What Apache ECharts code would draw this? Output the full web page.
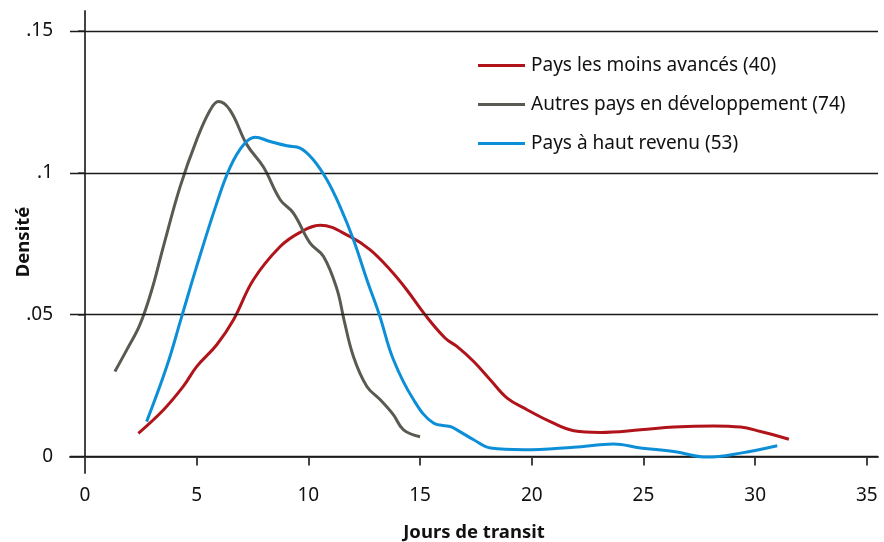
<!DOCTYPE html>
<html><head><meta charset="utf-8">
<script src="https://cdn.jsdelivr.net/npm/echarts@6/dist/echarts.min.js"></script>
<style>html,body{margin:0;padding:0;background:#fff}#c{width:884px;height:542px}</style>
</head><body><div id="c"></div>
<script>
const seriesNames = ["Pays les moins avancés (40)", "Autres pays en développement (74)", "Pays à haut revenu (53)"];
const colors = ["#b0141a", "#5a5a52", "#0d8fd8"];
const xTicks = [0, 5, 10, 15, 20, 25, 30, 35];
const yTicks = [0, 0.05, 0.1, 0.15];
const yTickLabels = ["0", ".05", ".1", ".15"];

const leastDeveloped = [
  [2.39,0.0082],[3.51,0.0164],[4.40,0.0247],[5.0,0.0317],[5.90,0.0394],[6.65,0.0482],[7.54,0.0623],
  [8.74,0.074],[9.63,0.0790],[10.53,0.0815],[11.87,0.0775],[12.77,0.0728],[13.66,0.0658],[14.41,0.0587],
  [15.23,0.0499],[16.13,0.0417],[16.65,0.0388],[17.4,0.0335],[18.15,0.027],[18.9,0.0206],[19.79,0.0165],
  [20.83,0.0123],[21.88,0.0091],[23.07,0.0085],[24.87,0.0094],[26.36,0.0104],[28.15,0.0108],[29.35,0.0104],
  [30.24,0.0088],[31.51,0.0061]
];
const otherDeveloping = [
  [1.34,0.030],[1.87,0.0376],[2.46,0.0465],[2.99,0.0587],[3.51,0.074],[4.26,0.0951],[5.0,0.1116],
  [5.6,0.122],[5.97,0.1251],[6.5,0.122],[7.24,0.110],[7.99,0.102],[8.74,0.0905],[9.33,0.0858],
  [10.08,0.0752],[10.68,0.0705],[11.28,0.059],[11.6,0.048],[12.02,0.0352],[12.62,0.0247],[13.22,0.020],
  [13.81,0.0147],[14.26,0.0094],[15.0,0.0070]
];
const highIncome = [
  [2.76,0.0123],[3.66,0.0317],[4.33,0.0493],[5.0,0.067],[5.9,0.0893],[6.5,0.102],[7.09,0.1098],
  [7.62,0.1125],[8.29,0.111],[9.04,0.1095],[9.63,0.1087],[10.23,0.1045],[10.83,0.0975],[11.42,0.0881],
  [12.02,0.0764],[12.62,0.0623],[13.18,0.0499],[13.81,0.0341],[14.71,0.020],[15.6,0.0118],[16.35,0.0106],
  [16.65,0.0094],[17.4,0.0059],[18.15,0.003],[19.64,0.0024],[21.88,0.0033],[23.67,0.0044],[24.87,0.003],
  [26.36,0.0018],[27.85,-0.0002],[29.35,0.0012],[30.99,0.0038]
];
const allData = [leastDeveloped, otherDeveloping, highIncome];

const font = "'Noto Sans', sans-serif";
const chart = echarts.init(document.getElementById('c'), null, {renderer: 'canvas'});
const series = allData.map((d, i) => ({
  name: seriesNames[i], type: 'line', data: d, smooth: 0.4, showSymbol: false,
  lineStyle: {color: colors[i], width: 3}, itemStyle: {color: colors[i]},
  z: 3 + i, animation: false
}));
series.push({
  type: 'line', data: [], silent: true, animation: false,
  markLine: {silent: true, symbol: 'none', label: {show: false}, animation: false,
    lineStyle: {color: '#1a1a1a', width: 1.3, type: 'solid'},
    data: yTicks.map(v => ({yAxis: v}))}
});
chart.setOption({
  animation: false,
  grid: {left: 70, right: 6, top: 11, bottom: 69, containLabel: false, outerBoundsMode: 'none'},
  legend: {
    data: seriesNames, orient: 'vertical', left: 473, top: 51, itemWidth: 47, itemHeight: 3,
    itemGap: 20, icon: 'rect', textStyle: {fontFamily: font, fontSize: 19, color: '#111', padding: [0,0,0,1]}
  },
  xAxis: {
    type: 'value', min: -0.67, max: 35.5,
    name: 'Jours de transit', nameLocation: 'middle', nameGap: 50, nameMoveOverlap: false,
    nameTextStyle: {fontFamily: font, fontSize: 18.5, fontWeight: 'bold', color: '#111'},
    axisLine: {show: true, lineStyle: {color: '#444', width: 2}},
    axisTick: {show: true, length: 9, customValues: xTicks, lineStyle: {color: '#444', width: 2}},
    axisLabel: {customValues: xTicks, fontFamily: font, fontSize: 19, color: '#111', margin: 13},
    splitLine: {show: false}
  },
  yAxis: {
    type: 'value', min: -0.0058, max: 0.157,
    name: 'Densité', nameLocation: 'middle', nameGap: 37, nameRotate: 90, nameMoveOverlap: false,
    nameTextStyle: {fontFamily: font, fontSize: 18.5, fontWeight: 'bold', color: '#111'},
    axisLine: {show: true, lineStyle: {color: '#444', width: 2}},
    axisTick: {show: true, length: 7, customValues: yTicks, lineStyle: {color: '#444', width: 1.5}},
    axisLabel: {customValues: yTicks, fontFamily: font, fontSize: 19, color: '#111', margin: 17,
      formatter: v => { const i = yTicks.findIndex(t => Math.abs(t - v) < 1e-9); return i >= 0 ? yTickLabels[i] : ''; }},
    splitLine: {show: false}
  },
  series: series
});
</script></body></html>
